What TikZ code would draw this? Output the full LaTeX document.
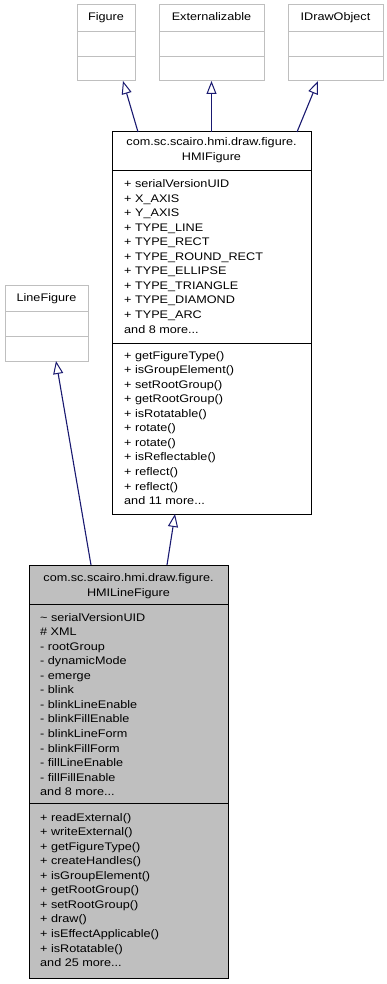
\documentclass[tikz,border=0pt]{standalone}
\usepackage{fontspec}
\setmainfont{Liberation Sans}[FakeStretch=1.15]
\usetikzlibrary{arrows.meta,calc}
\definecolor{edgeblue}{HTML}{191970}
\definecolor{lightborder}{HTML}{BFBFBF}
\definecolor{classgray}{HTML}{BFBFBF}
\newcommand{\moredots}{...}

\tikzset{
  umlfont/.style={font=\fontsize{11}{13}\selectfont},
  extbox/.style={draw=lightborder, line width=1pt, fill=white, inner sep=0pt, outer sep=0pt},
  mainbox/.style={draw=black, line width=1pt, fill=white, inner sep=0pt, outer sep=0pt},
  focusbox/.style={draw=black, line width=1pt, fill=classgray, inner sep=0pt, outer sep=0pt},
  member/.style={umlfont, inner sep=0pt, anchor=base west},
  title/.style={umlfont, inner sep=0pt, anchor=base},
  inherit/.style={draw=edgeblue, line width=1.1pt,
    -{Triangle[length=13pt,width=10pt,fill=white,line width=1pt]}}
}

\begin{document}
\begin{tikzpicture}[x=1pt,y=-1pt]
\useasboundingbox (0,0) rectangle (386,984);

% ---- external base classes (top row) ----
\node[extbox, minimum width=58pt, minimum height=76pt] (fig) at (106,43) {};
\draw[lightborder, line width=1pt] (fig.west |- 0,32) -- (fig.east |- 0,32)
                                   (fig.west |- 0,57) -- (fig.east |- 0,57);
\node[title] (figT) at (106,21) {Figure};

\node[extbox, minimum width=105pt, minimum height=76pt] (ext) at (211.5,43) {};
\draw[lightborder, line width=1pt] (ext.west |- 0,32) -- (ext.east |- 0,32)
                                   (ext.west |- 0,57) -- (ext.east |- 0,57);
\node[title] (extT) at (211.5,21) {Externalizable};

\node[extbox, minimum width=95pt, minimum height=76pt] (ido) at (335.5,43) {};
\draw[lightborder, line width=1pt] (ido.west |- 0,32) -- (ido.east |- 0,32)
                                   (ido.west |- 0,57) -- (ido.east |- 0,57);
\node[title] (idoT) at (335.5,21) {IDrawObject};

% ---- LineFigure ----
\node[extbox, minimum width=83pt, minimum height=76pt] (lf) at (46.5,323) {};
\draw[lightborder, line width=1pt] (lf.west |- 0,311) -- (lf.east |- 0,311)
                                   (lf.west |- 0,336) -- (lf.east |- 0,336);
\node[title] (lfT) at (46.5,301) {LineFigure};

% ---- HMIFigure ----
\node[mainbox, minimum width=199pt, minimum height=382pt] (hf) at (211.5,323) {};
\draw[black, line width=1pt] (hf.west |- 0,171) -- (hf.east |- 0,171)
                             (hf.west |- 0,343) -- (hf.east |- 0,343);
\node[title] (hfT1) at (211.5,146) {com.sc.scairo.hmi.draw.figure.};
\node[title] (hfT2) at (211.5,161) {HMIFigure};
\foreach \t [count=\i from 0] in {
  + serialVersionUID, + X\_AXIS, + Y\_AXIS, + TYPE\_LINE, + TYPE\_RECT,
  + TYPE\_ROUND\_RECT, + TYPE\_ELLIPSE, + TYPE\_TRIANGLE, + TYPE\_DIAMOND,
  + TYPE\_ARC, and 8 more\moredots}
  \node[member] (hfa\i) at (124,{187.5+14.56*\i}) {\t};
\foreach \t [count=\i from 0] in {
  + getFigureType(), + isGroupElement(), + setRootGroup(), + getRootGroup(),
  + isRotatable(), + rotate(), + rotate(), + isReflectable(), + reflect(),
  + reflect(), and 11 more\moredots}
  \node[member] (hfm\i) at (124,{359+14.56*\i}) {\t};

% ---- HMILineFigure ----
\node[focusbox, minimum width=199pt, minimum height=413pt] (hlf) at (128.5,771.5) {};
\draw[black, line width=1pt] (hlf.west |- 0,604) -- (hlf.east |- 0,604)
                             (hlf.west |- 0,803) -- (hlf.east |- 0,803);
\node[title] (hlfT1) at (128.5,581) {com.sc.scairo.hmi.draw.figure.};
\node[title] (hlfT2) at (128.5,596) {HMILineFigure};
\foreach \t [count=\i from 0] in {
  {\textasciitilde{} serialVersionUID}, \# XML, - rootGroup, - dynamicMode,
  - emerge, - blink, - blinkLineEnable, - blinkFillEnable, - blinkLineForm,
  - blinkFillForm, - fillLineEnable, - fillFillEnable, and 8 more\moredots}
  \node[member] (hlfa\i) at (40,{621+14.56*\i}) {\t};
\foreach \t [count=\i from 0] in {
  + readExternal(), + writeExternal(), + getFigureType(), + createHandles(),
  + isGroupElement(), + getRootGroup(), + setRootGroup(), + draw(),
  + isEffectApplicable(), + isRotatable(), and 25 more\moredots}
  \node[member] (hlfm\i) at (40,{821+14.56*\i}) {\t};

% ---- generalization connectors ----
\draw[inherit] ($(hf.north west)+(26,0)$) -- ($(fig.south west)+(46,0)$);
\draw[inherit] (hf.north) -- (ext.south);
\draw[inherit] ($(hf.north east)+(-14,0)$) -- ($(ido.south west)+(30,0)$);
\draw[inherit] ($(hlf.north west)+(62,0)$) -- ($(lf.south west)+(51,0)$);
\draw[inherit] ($(hlf.north west)+(138,0)$) -- ($(hf.south west)+(63,0)$);
\end{tikzpicture}
\end{document}
